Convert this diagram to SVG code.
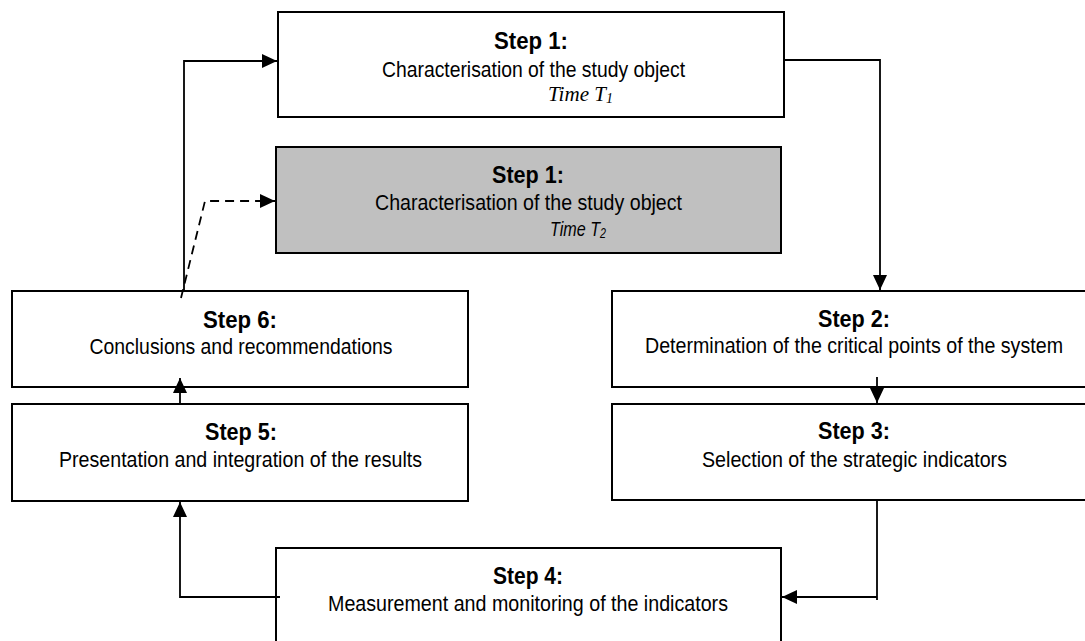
<svg xmlns="http://www.w3.org/2000/svg" width="1085" height="641" viewBox="0 0 1085 641">
<style>
.box{fill:#fff;stroke:#000;stroke-width:2}
.gray{fill:#c0c0c0;stroke:#000;stroke-width:2}
.h{font-family:"Liberation Sans Narrow","Arial Narrow","Liberation Sans",sans-serif;font-weight:bold;font-size:23px;text-anchor:middle;fill:#000}
.t{font-family:"Liberation Sans Narrow","Arial Narrow","Liberation Sans",sans-serif;font-size:22px;text-anchor:middle;fill:#000}
.ts{font-family:"Liberation Serif","Times New Roman",serif;font-style:italic;font-size:21px;fill:#000}
.ti{font-family:"Liberation Sans Narrow","Arial Narrow","Liberation Sans",sans-serif;font-style:italic;font-size:21px;fill:#000}
.ln{fill:none;stroke:#000;stroke-width:1.8}
.dash{fill:none;stroke:#000;stroke-width:1.8;stroke-dasharray:9,6}
</style>
<defs>
<marker id="arr" markerUnits="userSpaceOnUse" markerWidth="16" markerHeight="15" refX="15" refY="7" orient="auto">
<path d="M0,0 L15,7 L0,14 z" fill="#000"/>
</marker>
</defs>
<rect width="1085" height="641" fill="#fff"/>
<g id="step1-t1">
<rect class="box" x="278" y="12" width="506" height="105"/>
<text class="h" x="531" y="49" textLength="74" lengthAdjust="spacingAndGlyphs">Step 1:</text>
<text class="t" x="533.5" y="77" textLength="303" lengthAdjust="spacingAndGlyphs">Characterisation of the study object</text>
<text class="ts" x="548" y="101" textLength="65" lengthAdjust="spacingAndGlyphs">Time T<tspan font-size="14" dy="2">1</tspan></text>
</g>
<g id="step1-t2">
<rect class="gray" x="276" y="147" width="505" height="106"/>
<text class="h" x="528" y="183" textLength="72" lengthAdjust="spacingAndGlyphs">Step 1:</text>
<text class="t" x="528.5" y="210" textLength="307" lengthAdjust="spacingAndGlyphs">Characterisation of the study object</text>
<text class="ti" x="550" y="236" textLength="56" lengthAdjust="spacingAndGlyphs">Time T<tspan font-size="14" dy="2">2</tspan></text>
</g>
<g id="step6">
<rect class="box" x="12" y="291" width="456" height="96"/>
<text class="h" x="240" y="328" textLength="74" lengthAdjust="spacingAndGlyphs">Step 6:</text>
<text class="t" x="241" y="354" textLength="303" lengthAdjust="spacingAndGlyphs">Conclusions and recommendations</text>
</g>
<g id="step5">
<rect class="box" x="12" y="404" width="456" height="97"/>
<text class="h" x="241" y="440" textLength="72" lengthAdjust="spacingAndGlyphs">Step 5:</text>
<text class="t" x="240.5" y="467" textLength="363" lengthAdjust="spacingAndGlyphs">Presentation and integration of the results</text>
</g>
<g id="step2">
<rect class="box" x="612" y="291" width="484" height="96"/>
<text class="h" x="854" y="327" textLength="72" lengthAdjust="spacingAndGlyphs">Step 2:</text>
<text class="t" x="854" y="353" textLength="418" lengthAdjust="spacingAndGlyphs">Determination of the critical points of the system</text>
</g>
<g id="step3">
<rect class="box" x="612" y="404" width="484" height="96"/>
<text class="h" x="854" y="439" textLength="72" lengthAdjust="spacingAndGlyphs">Step 3:</text>
<text class="t" x="854.5" y="467" textLength="305" lengthAdjust="spacingAndGlyphs">Selection of the strategic indicators</text>
</g>
<g id="step4">
<rect class="box" x="276" y="548" width="505" height="100"/>
<text class="h" x="528" y="584" textLength="70" lengthAdjust="spacingAndGlyphs">Step 4:</text>
<text class="t" x="528" y="611" textLength="400" lengthAdjust="spacingAndGlyphs">Measurement and monitoring of the indicators</text>
</g>
<g id="connectors">
<path class="ln" d="M784,60 H880 V290" marker-end="url(#arr)"/>
<path class="ln" d="M877,377 V403" marker-end="url(#arr)"/>
<path class="ln" d="M877,501 V600"/>
<path class="ln" d="M877,597 H782" marker-end="url(#arr)"/>
<path class="ln" d="M280,597 H180 V502" marker-end="url(#arr)"/>
<path class="ln" d="M180,404 V378" marker-end="url(#arr)"/>
<path class="ln" d="M184,291 V61 H277" marker-end="url(#arr)"/>
<path class="dash" d="M181,298 L205,201 H275" marker-end="url(#arr)"/>
</g>
</svg>
